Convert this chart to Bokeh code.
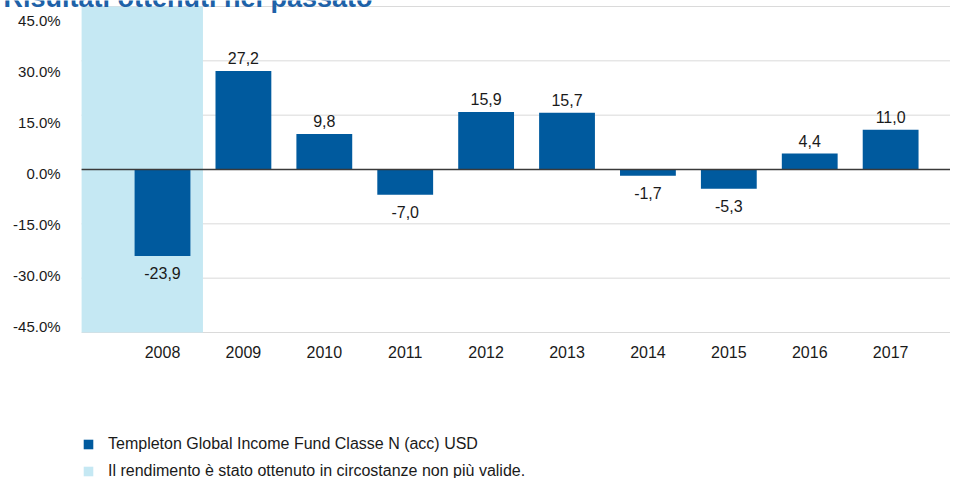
from bokeh.plotting import figure
from bokeh.models import ColumnDataSource, Range1d, Legend, LegendItem
from bokeh.core.properties import value
from bokeh.embed import file_html
from bokeh.resources import INLINE

title_text = "Risultati ottenuti nel passato"
years = ["2008", "2009", "2010", "2011", "2012", "2013", "2014", "2015", "2016", "2017"]
returns = [-23.9, 27.2, 9.8, -7.0, 15.9, 15.7, -1.7, -5.3, 4.4, 11.0]
y_ticks = [-45, -30, -15, 0, 15, 30, 45]
shaded_years = ["2008"]
series_name = "Templeton Global Income Fund Classe N (acc) USD"
shade_name = "Il rendimento è stato ottenuto in circostanze non più valide."

FONT = "Liberation Sans"
BAR = "#005A9E"
SHADE = "#C5E8F3"
TXT = "#1a1a1a"
GRID = "#DADADA"

idx = list(range(len(years)))
x_left = idx[0] - 1          # left edge of the plotting area
x_right = idx[-1] + 1        # runs off the right edge, as in the reference

p = figure(width=950, height=478, output_backend="svg", toolbar_location=None,
           x_range=Range1d(-2.0025, 9.74), y_range=Range1d(-85.31, 46.657),
           x_axis_location=None, y_axis_location=None,
           min_border=0, min_border_left=0, min_border_right=0,
           min_border_top=0, min_border_bottom=0)
p.outline_line_color = None
p.background_fill_color = "white"
p.border_fill_color = "white"
for g in p.grid:
    g.visible = False

# horizontal grid lines
grid_src = ColumnDataSource(dict(x0=[x_left] * len(y_ticks), x1=[x_right] * len(y_ticks),
                                 y=y_ticks))
p.segment(x0="x0", x1="x1", y0="y", y1="y", source=grid_src, line_color=GRID, line_width=1)

# shaded period
shade_idx = [years.index(y) for y in shaded_years]
shade_src = ColumnDataSource(dict(
    left=[x_left for i in shade_idx],
    right=[i + 0.5 for i in shade_idx],
    bottom=[y_ticks[0]] * len(shade_idx),
    top=[y_ticks[-1]] * len(shade_idx),
))
shade = p.quad(left="left", right="right", bottom="bottom", top="top", source=shade_src,
               fill_color=SHADE, line_color=None)

# bars
src = ColumnDataSource(dict(
    x=idx,
    top=returns,
    label=[f"{v:.1f}".replace(".", ",") for v in returns],
    base=["bottom" if v >= 0 else "top" for v in returns],
    off=[-7 if v >= 0 else 11 for v in returns],
))
bars = p.vbar(x="x", top="top", bottom=0, width=0.69, source=src,
              fill_color=BAR, line_color=None)

# zero line
p.segment(x0=[x_left], x1=[x_right], y0=[0], y1=[0], line_color="#3a3a3a", line_width=1.5)

# value labels
p.text(x="x", y="top", text="label", source=src, text_align="center",
       text_baseline="base", y_offset="off", text_font=value(FONT),
       text_font_size="16px", text_color=TXT)

# y tick labels (spaced slightly tighter than the grid, as in the reference)
ylab_src = ColumnDataSource(dict(
    x=[x_left] * len(y_ticks), y=y_ticks,
    text=[f"{t:.1f}%" for t in y_ticks],
    off=[14 - (y_ticks[-1] - t) * 0.2222 for t in y_ticks],
))
p.text(x="x", y="y", text="text", source=ylab_src, x_offset=-21, y_offset="off",
       text_align="right", text_baseline="middle", text_font=value(FONT),
       text_font_size="15px", text_color=TXT)

# x tick labels
xlab_src = ColumnDataSource(dict(x=idx, y=[y_ticks[0]] * len(idx), text=years))
p.text(x="x", y="y", text="text", source=xlab_src, y_offset=20,
       text_align="center", text_baseline="middle", text_font=value(FONT),
       text_font_size="16px", text_color=TXT)

# title (only its lower part is visible, as in the reference)
p.text(x=[p.x_range.start], y=[y_ticks[-1]], text=[title_text], x_offset=3, y_offset=-9,
       text_baseline="alphabetic", text_align="left",
       text_font=value("Liberation Sans"), text_font_style="bold",
       text_font_size="27px", text_color="#1E62A8")

legend = Legend(items=[LegendItem(label=series_name, renderers=[bars]),
                       LegendItem(label=shade_name, renderers=[shade])],
                location=(82, -2), orientation="vertical",
                glyph_width=12, glyph_height=12, label_standoff=14, label_height=16,
                label_text_font=FONT, label_text_font_size="16px",
                label_text_color=TXT, spacing=9, padding=0, margin=0,
                border_line_color=None, background_fill_alpha=0)
p.add_layout(legend)

open("out.html", "w").write(file_html(p, INLINE))
